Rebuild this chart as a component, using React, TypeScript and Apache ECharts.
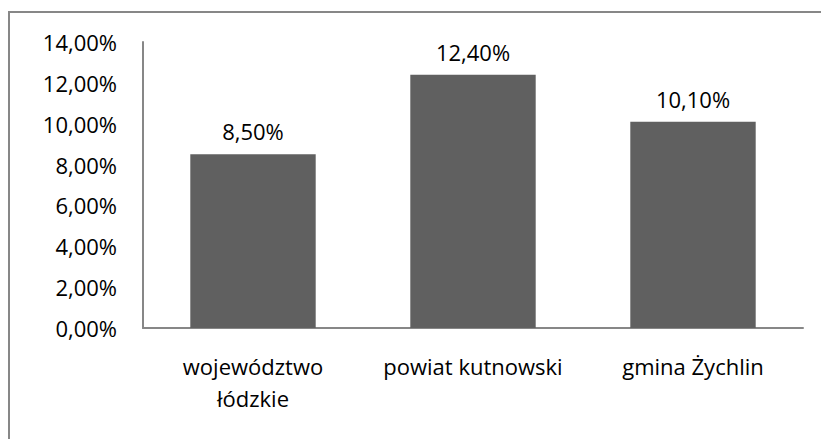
import React, { useEffect, useRef } from "react";
import * as echarts from "echarts";

const categories = ["województwo\nłódzkie", "powiat kutnowski", "gmina Żychlin"];
const values = [8.5, 12.4, 10.1];
const yMin = 0;
const yMax = 14;
const yInterval = 2;

const fmt = (v: number) => v.toFixed(2).replace(".", ",") + "%";
const FONT = "Open Sans";

export default function App() {
  const ref = useRef<HTMLDivElement>(null);
  useEffect(() => {
    if (!ref.current) return;
    const chart = echarts.init(ref.current, null, { renderer: "svg" });
    chart.setOption({
      animation: false,
      backgroundColor: "#ffffff",
      graphic: [
        {
          type: "rect",
          shape: { x: 9, y: 12, width: 840, height: 460 },
          style: { fill: "none", stroke: "#878787", lineWidth: 2 },
          silent: true,
        },
      ],
      grid: { left: 143, right: 18, top: 42, bottom: 111, containLabel: false },
      xAxis: {
        type: "category",
        data: categories,
        axisLine: { show: true, lineStyle: { color: "#878787", width: 2 } },
        axisTick: { show: false },
        axisLabel: {
          color: "#000",
          fontFamily: FONT,
          fontSize: 22,
          margin: 22,
          lineHeight: 32,
          interval: 0,
        },
      },
      yAxis: {
        type: "value",
        min: yMin,
        max: yMax,
        interval: yInterval,
        axisLine: { show: true, lineStyle: { color: "#878787", width: 2 } },
        axisTick: { show: false },
        splitLine: { show: false },
        axisLabel: {
          color: "#000",
          fontFamily: FONT,
          fontSize: 22,
          margin: 26,
          formatter: (v: number) => fmt(v),
        },
      },
      series: [
        {
          type: "bar",
          data: values,
          barWidth: "57%",
          itemStyle: { color: "#606060" },
          label: {
            show: true,
            position: "top",
            distance: 12,
            color: "#000",
            fontFamily: FONT,
            fontSize: 22,
            formatter: (p: any) => fmt(p.value),
          },
        },
      ],
    });
    return () => chart.dispose();
  }, []);
  return <div ref={ref} style={{ width: 821, height: 439, position: "absolute", left: 0, top: 0 }} />;
}
